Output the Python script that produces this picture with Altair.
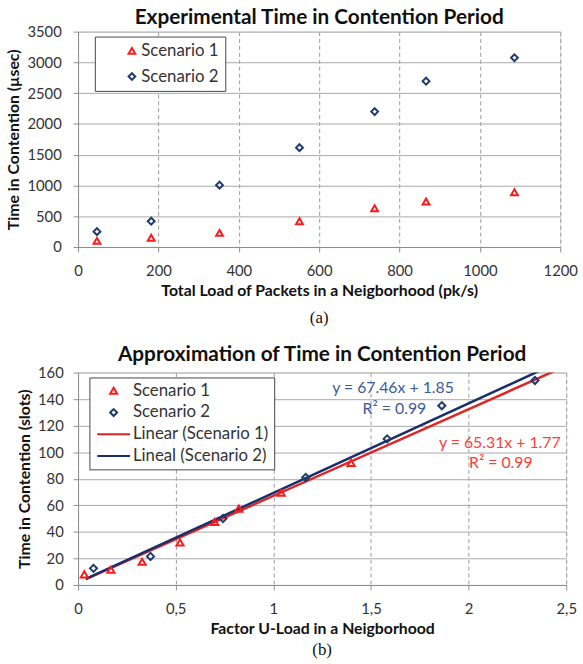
import altair as alt
import pandas as pd

# ---------------- data (a) ----------------
series_names = ["Scenario 1", "Scenario 2"]
load_s1 = [47, 182, 352, 551, 738, 866, 1086]
time_s1 = [100, 150, 230, 420, 630, 740, 890]
load_s2 = [47, 182, 352, 551, 738, 866, 1086]
time_s2 = [250, 420, 1005, 1615, 2200, 2695, 3075]

# ---------------- data (b) ----------------
u_s1 = [0.032, 0.168, 0.328, 0.522, 0.70, 0.823, 1.04, 1.398]
slots_s1 = [8, 11.5, 17.5, 32, 47.5, 57.5, 69.5, 92]
u_s2 = [0.079, 0.371, 0.742, 1.166, 1.583, 1.863, 2.34]
slots_s2 = [12.5, 21.5, 50, 81, 110, 135, 154]

fit_names = ["Linear (Scenario 1)", "Lineal (Scenario 2)"]
fit_slope = [65.31, 67.46]
fit_intercept = [1.77, 1.85]
fit_x_start = [0.04, 0.04]
fit_x_end = [2.5, 2.5]

eq_text = ["y = 67.46x + 1.85", "R² = 0.99", "y = 65.31x + 1.77", "R² = 0.99"]
eq_series = ["Scenario 2", "Scenario 2", "Scenario 1", "Scenario 1"]
eq_x = [1.613, 1.62, 2.16, 2.165]
eq_y = [148, 132.5, 107, 91.5]

RED = "#ff1a1a"
NAVY = "#1f3a6e"
RED_LINE = "#e02424"
NAVY_LINE = "#1a2f6a"
FONT = "Lato"
NBSP = "\u00a0"

def axis_x(values, title, label_expr, lp=12, tp=5):
    return alt.Axis(values=values, title=title, grid=True, gridDash=[4, 3], gridColor="#9a9a9a",
                    domainColor="#8c8c8c", tickColor="#8c8c8c", tickSize=5, labelFontSize=15,
                    labelColor="#333333", labelFont=FONT, titleFont=FONT, titleFontSize=16,
                    titleFontWeight="bold", titleColor="#111111", labelPadding=lp, titlePadding=tp,
                    labelFlush=False, labelOverlap=False, labelExpr=label_expr)

def axis_y(values, title, lp=12):
    return alt.Axis(values=values, title=title, grid=True, gridColor="#a8a8a8",
                    domainColor="#8c8c8c", tickColor="#8c8c8c", tickSize=5, labelFontSize=15,
                    labelColor="#333333", labelFont=FONT, titleFont=FONT, titleFontSize=16,
                    titleFontWeight="bold", titleColor="#111111", labelPadding=lp,
                    titlePadding=5, labelOverlap=False, labelExpr="format(datum.value, 'd')")

# ---------------- chart (a) ----------------
W1, H1 = 488, 218
df_a = pd.DataFrame({
    "load": load_s1 + load_s2,
    "time": time_s1 + time_s2,
    "series": [series_names[0]] * len(load_s1) + [series_names[1]] * len(load_s2),
})

legend_a = alt.Legend(title=NBSP * 5, titleOrient="right", titlePadding=0, titleFontSize=17,
                      orient="none", legendX=17, legendY=5,
                      strokeColor="#444444", fillColor="white", padding=6,
                      labelFontSize=17, labelFont=FONT, labelColor="#333333",
                      symbolStrokeWidth=2, symbolSize=45, symbolOffset=23,
                      labelOffset=1, rowPadding=8)

pts_a = alt.Chart(df_a).mark_point(filled=False, strokeWidth=2, size=48, opacity=1).encode(
    x=alt.X("load:Q", scale=alt.Scale(domain=[0, 1200], nice=False),
            axis=axis_x(list(range(0, 1201, 200)), "Total Load of Packets in a Neigborhood (pk/s)",
                        "format(datum.value, 'd')", lp=12, tp=4)),
    y=alt.Y("time:Q", scale=alt.Scale(domain=[0, 3500], nice=False),
            axis=axis_y(list(range(0, 3501, 500)), "Time in Contention (µsec)", lp=12)),
    color=alt.Color("series:N", scale=alt.Scale(domain=series_names, range=[RED, NAVY]),
                    legend=legend_a),
    shape=alt.Shape("series:N", scale=alt.Scale(domain=series_names, range=["triangle-up", "diamond"]),
                    legend=legend_a),
)

cap_a = alt.Chart(pd.DataFrame({"c": ["(a)"]})).mark_text(
    font="Liberation Serif", fontSize=17, color="#111111").encode(
    text="c:N", x=alt.value(W1 / 2), y=alt.value(H1 + 72))

chart_a = alt.layer(pts_a, cap_a).properties(
    width=W1, height=H1,
    title=alt.TitleParams("Experimental Time in Contention Period", font=FONT, fontSize=21,
                          fontWeight="bold", color="#111111", offset=-3))

# ---------------- chart (b) ----------------
W2, H2 = 494, 215
legend_domain = series_names + fit_names
df_b = pd.DataFrame({
    "u": u_s1 + u_s2,
    "slots": slots_s1 + slots_s2,
    "series": [series_names[0]] * len(u_s1) + [series_names[1]] * len(u_s2),
})
rows = []
for n, m, b, x0, x1 in zip(fit_names, fit_slope, fit_intercept, fit_x_start, fit_x_end):
    rows.append({"series": n, "u": x0, "m": m, "b": b})
    rows.append({"series": n, "u": x1, "m": m, "b": b})
df_fit = pd.DataFrame(rows)

color_b = alt.Scale(domain=legend_domain, range=[RED, NAVY, RED_LINE, NAVY_LINE])
xb = alt.X("u:Q", scale=alt.Scale(domain=[0, 2.5], nice=False),
           axis=axis_x([0, 0.5, 1, 1.5, 2, 2.5], "Factor U-Load in a Neigborhood",
                       "replace(format(datum.value, '~g'), '.', ',')", lp=12, tp=4))
yb = alt.Y("slots:Q", scale=alt.Scale(domain=[0, 160], nice=False),
           axis=axis_y(list(range(0, 161, 20)), "Time in Contention (slots)", lp=10))

legend_b = alt.Legend(title=NBSP * 2, titleOrient="right", titlePadding=0, titleFontSize=17,
                      orient="none", legendX=11.5, legendY=5,
                      strokeColor="#444444", fillColor="white", padding=5,
                      labelFontSize=17, labelFont=FONT, labelColor="#333333",
                      symbolStrokeWidth=2, symbolSize=50, symbolOffset=11,
                      labelOffset=11, rowPadding=4)

lines_b = alt.Chart(df_fit).transform_calculate(
    slots="datum.m * datum.u + datum.b").mark_line(strokeWidth=2.5, clip=True).encode(
    x=xb, y=yb,
    color=alt.Color("series:N", scale=color_b, legend=legend_b),
)

pts_b = alt.Chart(df_b).mark_point(filled=False, strokeWidth=2, size=52, opacity=1).encode(
    x=xb, y=yb,
    color=alt.Color("series:N", scale=color_b, legend=legend_b),
    shape=alt.Shape("series:N", scale=alt.Scale(
        domain=legend_domain,
        range=["triangle-up", "diamond", "M-4.7,0L4.7,0", "M-4.7,0L4.7,0"]), legend=legend_b),
)

df_eq = pd.DataFrame({"text": eq_text, "series": eq_series, "u": eq_x, "slots": eq_y})
eq_blue = alt.Chart(df_eq).transform_filter(alt.datum.series == "Scenario 2").mark_text(
    font=FONT, fontSize=16, color="#3d5a99").encode(x=xb, y=yb, text="text:N")
eq_red = alt.Chart(df_eq).transform_filter(alt.datum.series == "Scenario 1").mark_text(
    font=FONT, fontSize=16, color="#ff3b3b").encode(x=xb, y=yb, text="text:N")

cap_b = alt.Chart(pd.DataFrame({"c": ["(b)"]})).mark_text(
    font="Liberation Serif", fontSize=17, color="#111111").encode(
    text="c:N", x=alt.value(W2 / 2), y=alt.value(H2 + 66))

chart_b = alt.layer(lines_b, pts_b, eq_blue, eq_red, cap_b).properties(
    width=W2, height=H2,
    title=alt.TitleParams("Approximation of Time in Contention Period", font=FONT, fontSize=21,
                          fontWeight="bold", color="#111111", offset=1))

chart = alt.vconcat(chart_a, chart_b, spacing=16).resolve_scale(
    color="independent", shape="independent"
).resolve_legend(color="independent", shape="independent").properties(
    padding={"left": 5, "top": 2, "right": 5, "bottom": 2}
).configure_view(stroke=None).configure(background="white")

chart.save("out.html", embed_options={"renderer": "svg", "actions": False})
